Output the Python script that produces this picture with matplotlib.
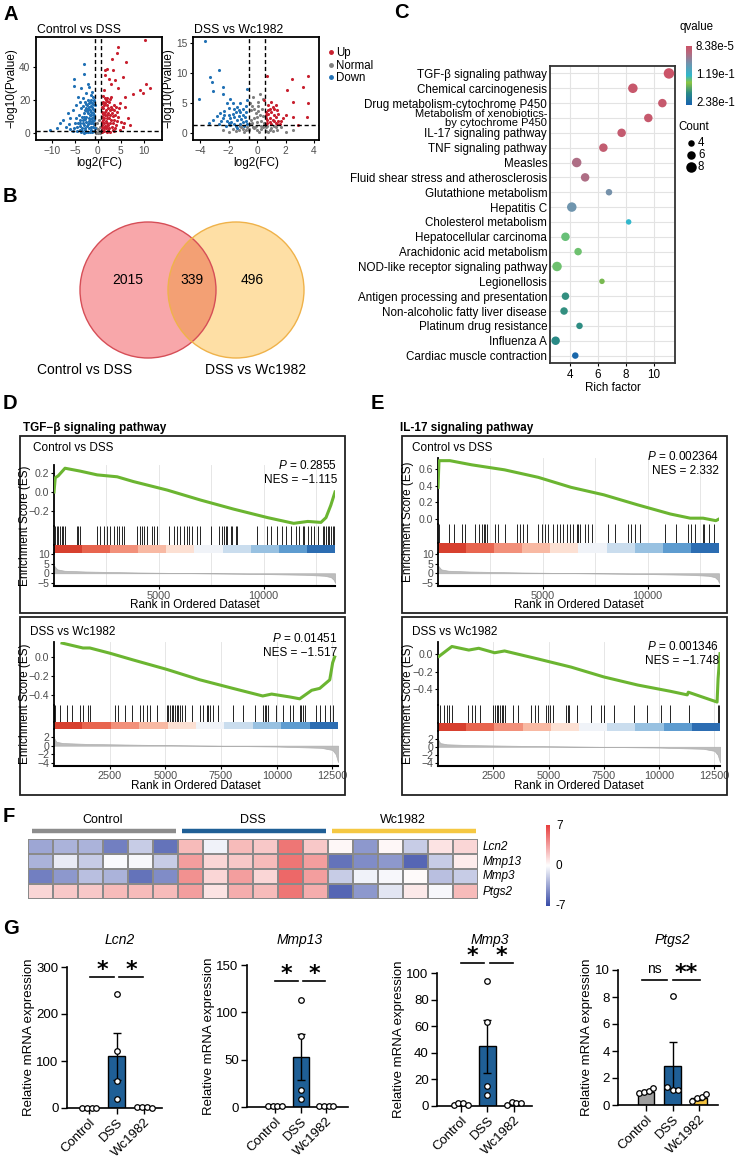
import numpy as np
import matplotlib
matplotlib.use("Agg")
import matplotlib.pyplot as plt
from matplotlib.colors import LinearSegmentedColormap, ListedColormap
from matplotlib.patches import Circle, Rectangle
from matplotlib.lines import Line2D

plt.rcParams['font.family'] = ['Liberation Sans', 'DejaVu Sans']
plt.rcParams['mathtext.fontset'] = 'custom'
plt.rcParams['mathtext.it'] = 'Liberation Sans:italic'
plt.rcParams['mathtext.rm'] = 'Liberation Sans'

# ======================= DATA =======================
# A: volcano plots (log2FC, -log10 Pvalue)
vol1_up = [(2.1,39),(4.2,48.5),(4.3,52),(6.2,43),(10.2,56),(1.5,35),(3.4,38),(3.8,32),(2.8,30),(5.5,34),
           (1.3,26),(4.5,27),(2.8,22),(6,22),(7.7,23.6),(9.1,26),(10.6,30),(11.3,27),(9.8,24),(1.7,20),
           (4.9,18),(6,16),(1.5,38),(3,45),(2.4,33),(0.8,2),(1,5),(1.2,8),(1.5,11),(1.8,14),(2,17),(2.5,19),
           (1.2,15),(1,10),(1.4,3),(2,6),(2.5,9),(3,12),(3.5,8),(3,4),(2.2,2),(4,5),(3.6,14),(2.8,16),
           (1.6,18),(0.9,13),(1.1,19),(2.3,12.5),(4.5,10),(5,7),(3.2,2),(1.7,7.5),(2.7,6.5),(1.3,1.5),
           (0.9,7),(2.1,9.5),(3.8,3),(5.5,4),(1.5,21),(2.4,3.5),(3.3,10.5),(0.8,16),(1.9,1),(4.2,13),
           (6.5,9),(7,5),(3.5,17),(5.5,3.6),(1.1,11.5),(1.9,4.5),(2.6,14),(1.4,6),(0.9,4),
           (1.0,1),(2.6,1),(3.6,1.2),(1.8,3),(2.9,8),(1.4,9.5),(2.0,11),(1.2,12.5),(1.6,13),(3.1,14.5),
           (2.2,15.5),(1.3,17),(1.9,19.5),(0.8,10),(4.2,7.5),(3.8,11),(2.6,11),(1.5,4.5),(2.3,5),(3.4,6),
           (4.8,2),(5.8,6),(0.9,18.5),(2.0,21.5),(2.7,20.5),(1.1,22.5),(3.9,16),(4.6,15)]
vol1_down = [(-5.3,33),(-5.1,28.5),(-3,42),(-3,36),(-2.1,30),(-3.6,27),(-1.9,28),(-1.5,23),(-4.3,22),
             (-6.5,12),(-7.5,8),(-8.2,6),(-6,9),(-5.5,14),(-4.8,17),(-4,19),(-3.2,21),(-2.6,24),(-1.2,25),
             (-3.5,10),(-3,12),(-2.5,15),(-2,18),(-1.5,20),(-1.2,16),(-1,12),(-0.8,8),(-1,4),(-1.5,6),
             (-2,9),(-2.5,7),(-3,5),(-3.5,3),(-4,2),(-4.5,4),(-5,6),(-4,8),(-2,3),(-1.5,2),(-0.9,1.5),
             (-2.8,2),(-2.2,12),(-1.7,14),(-1.2,9),(-3.8,6),(-2.6,10),(-1.9,6),(-1.3,18),(-2.3,17),
             (-1.8,11),(-3.2,8),(-0.9,20),(-1.6,16.5),(-2.9,14),(-4.2,11),(-0.8,14),(-2.4,4.5),(-1.1,6.5),
             (-3.4,1.5),(-9,3),(-10.5,2),(-7,4),(-6,2.5),(-5.5,1.5),(-1.4,11),(-2.1,14.5),(-0.7,17),
             (-1.0,22),(-2.7,19),(-3.6,15),(-0.7,3),(-1.2,1),(-2.2,0.8),(-1.7,8.5),(-0.9,10),
             (-2.5,1),(-3,0.5),(-1.8,0.6),(-3.6,0.8),(-4.5,1.2),(-2.2,5.5),(-2.7,8.5),(-1.4,13),(-1.9,16),
             (-2.4,13.5),(-3.1,10),(-3.3,6.5),(-4.4,6.5),(-4.7,9),(-1.6,4),(-1.1,14.5),(-0.8,11),(-0.75,5.5),
             (-1.3,7.5),(-2.0,7.5),(-2.9,3.5),(-3.9,4.5),(-5.2,3.5),(-6.3,5.5),(-2.6,17.5),(-2.1,20),
             (-1.7,19),(-3.3,16.5),(-1.0,17.5),(-0.8,19.5)]
vol1_normal = [(-0.3,1),(0.3,1.5),(0,0.5),(-0.4,3),(0.4,4),(0.1,2.5),(-0.2,6),(0.2,8),(-0.5,0.3),(0.5,0.4)]

vol2_up = [(0.7,9.5),(2.45,9),(2.1,7.2),(2.5,5.2),(0.5,5.5),(0.8,4.7),(1,5.2),(1.3,4.7),(2,3),(2.5,2.7),
           (3.5,2.7),(2.9,1.3),(0.6,3.5),(0.9,2.5),(1.2,3),(1.5,2),(0.7,1.6),(1,1.4),(1.4,3.8),(0.8,3.1),
           (1.1,2.2),(1.6,1.5),(0.65,2.4),(1.3,1.7),(1.8,2.5),(0.9,4),(1.2,3.9),(3.6,9.5),(3.2,7.7),(3.6,5),
           (0.7,2.1),(1.0,3.4),(1.3,2.6),(0.6,1.4),(0.9,1.8),(1.5,3.1),(1.1,4.3),(0.75,3.8),(1.7,1.9),
           (1.4,1.4),(0.62,2.9),(1.2,2.0)]
vol2_down = [(-3.64,15.3),(-4.1,5.6),(-2.64,10.5),(-3.3,9.3),(-3.2,8.5),(-2.4,7.6),(-2.4,6.5),(-1.9,5.6),
             (-3.1,6.9),(-1.7,5),(-1.2,5),(-0.7,5.5),(-0.7,7.3),(-1.4,4.3),(-2.5,2),(-2,3),(-1.5,3.5),
             (-1,3),(-0.8,2),(-1.2,1.5),(-1.8,1.8),(-2.2,1.2),(-1.6,2.6),(-2.8,2.8),(-1,4),(-2,4.2),
             (-0.9,1.2),(-1.4,0.8),(-3.1,2.1),(-2.7,1.5),(-2.3,3.6),(-1.1,2.3),(-1.9,2.4),(-0.8,3.4),
             (-1.3,3.8),(-2.1,5),(-0.75,4.5),(-1.6,1.4),(-2.4,2.5),(-3.4,1.6),
             (-1.3,2.8),(-1.7,3.2),(-2.1,2),(-2.6,3.3),(-0.85,2.6),(-1.5,1.1),(-1.0,1.8),(-1.9,1.3),
             (-2.3,2.9),(-1.2,3.5),(-0.7,1.5),(-1.6,4),(-2.0,1.6),(-1.4,2.1)]
vol2_normal = [(-0.3,1),(0,0.5),(0.3,1.2),(-0.6,0.4),(0.6,0.3),(-1,0.6),(1,0.8),(-1.5,0.3),(1.4,0.5),
               (-2,0.2),(2,0.2),(-0.2,2.5),(0.2,3),(-0.4,3.8),(0.3,2),(0,1.8),(-0.5,5),(0.1,4.5),(-0.3,6),
               (0.4,5.6),(0.2,6.5),(-0.1,1.2),(0.5,1.6),(-0.7,0.9),(-1.2,1.1),(1.2,1.2),(0.8,0.1),
               (-0.9,0.1),(-0.45,2.2),(0.45,2.8),(-0.1,3.3),(0.15,0.2),(-0.25,0.8),(0.65,0.9),(-1.7,0.7),
               (1.7,0.9),(-0.5,1.5),(0.35,4),(-0.35,4.4),(0.05,5.2),(-2.4,0.4),(2.5,0.5),
               (-0.8,0.5),(0.9,0.5),(-1.3,0.4),(1.1,0.3),(-0.15,0.9),(0.25,0.6),(-0.55,0.6),(0.4,0.9),
               (0,2.6),(-0.2,4),(0.1,3.6),(-1.1,0.9),(1.3,0.9),(-0.35,1.7),(0.7,1.2)]

# B: Venn
venn_counts = [2015, 339, 496]
venn_sets = ["Control vs DSS", "DSS vs Wc1982"]

# C: KEGG enrichment
kegg_terms = ["TGF-\u03b2 signaling pathway", "Chemical carcinogenesis", "Drug metabolism-cytochrome P450",
              "Metabolism of xenobiotics-\nby cytochrome P450", "IL-17 signaling pathway", "TNF signaling pathway",
              "Measles", "Fluid shear stress and atherosclerosis", "Glutathione metabolism", "Hepatitis C",
              "Cholesterol metabolism", "Hepatocellular carcinoma", "Arachidonic acid metabolism",
              "NOD-like receptor signaling pathway", "Legionellosis", "Antigen processing and presentation",
              "Non-alcoholic fatty liver disease", "Platinum drug resistance", "Influenza A",
              "Cardiac muscle contraction"]
kegg_rich = [11.07, 8.5, 10.6, 9.6, 7.7, 6.4, 4.5, 5.1, 6.8, 4.15, 8.2, 3.7, 4.6, 3.1, 6.3, 3.7, 3.6, 4.7, 3.0, 4.4]
kegg_count = [8, 7, 6, 6, 6, 6, 7, 6, 4, 7, 3, 6, 5, 7, 3, 5, 5, 4, 6, 4]
kegg_q = [8.4e-5, 0.0048, 0.0072, 0.0072, 0.0096, 0.012, 0.033, 0.033, 0.067, 0.071, 0.119, 0.136,
          0.138, 0.138, 0.157, 0.186, 0.186, 0.188, 0.19, 0.233]
q_min, q_max = 8.38e-5, 2.38e-1

# D/E: GSEA running enrichment scores
ctrl_dss_n = 13400
dss_wc_n = 12750
tgf_ctrl_rank = [1, 60, 200, 525, 1240, 2060, 3010, 3780, 5400, 6990, 8560, 10190, 11430, 12100, 12730, 12970, 13200, 13400]
tgf_ctrl_es = [0.0, 0.15, 0.17, 0.25, 0.22, 0.18, 0.16, 0.11, 0.02, -0.085, -0.18, -0.27, -0.33, -0.31, -0.32, -0.27, -0.14, 0.0]
tgf_ctrl_hits = [48,128,207,287,367,447,526,1085,1164,1244,2042,2201,2361,2520,2680,2839,2999,3078,3238,3318,
                 3956,4115,4195,4275,4434,4673,4753,4913,5471,5710,5870,6029,6189,6348,6428,6588,6827,6986,
                 7465,7863,8023,8103,8182,8262,8422,8501,8661,8741,9698,10176,10336,10655,10894,11053,11293,
                 11532,11692,11851,11931,12091,12250,12410,12569,12808,12888,12968,13047,13127,13207,13287,13366]
tgf_wc_rank = [360, 1300, 1610, 2510, 3540, 5060, 6550, 8030, 9370, 9770, 10580, 11030, 11570, 11930, 12380, 12510, 12600]
tgf_wc_es = [0.147, 0.095, 0.095, 0.04, -0.03, -0.13, -0.24, -0.33, -0.41, -0.39, -0.42, -0.44, -0.35, -0.33, -0.24, -0.06, 0.0]
tgf_wc_hits = [5,60,269,568,792,1166,1316,1540,1615,2736,2886,3185,3484,3857,4007,4156,4306,4605,5053,5128,5203,
               5277,5352,5427,5502,5577,5651,5726,5875,6174,6548,6698,6847,6922,6997,7146,7370,8043,8492,9015,
               9389,9464,9538,9613,9987,10286,10585,10734,11033,11108,11183,11258,11781,11930,12155,12379,12528]
il17_ctrl_rank = [1, 47, 568, 1610, 3172, 4782, 6345, 7907, 9517, 11080, 12027, 12642, 13250, 13400]
il17_ctrl_es = [0.38, 0.70, 0.70, 0.65, 0.59, 0.50, 0.38, 0.29, 0.17, 0.06, 0.01, 0.01, -0.02, 0.0]
il17_ctrl_hits = [32,507,745,1141,1299,1775,1933,2092,2171,2250,2329,2725,2884,3200,3755,3913,4072,4230,4785,4943,
                  5102,5260,5498,5656,5815,5973,6132,6290,6448,6607,6686,6765,7003,7162,7320,8112,8429,9063,9221,
                  9380,9617,10806,11361,11915,12074,12232,12628,12708,12945,13183,13380]
il17_wc_rank = [45, 629, 1392, 1841, 2560, 3009, 4535, 6017, 7499, 9026, 10507, 11271, 11316, 12618, 12663, 12750]
il17_wc_es = [-0.03, 0.08, 0.04, 0.06, 0.01, 0.03, -0.06, -0.15, -0.26, -0.35, -0.42, -0.46, -0.43, -0.54, -0.28, 0.0]
il17_wc_hits = [105,254,404,509,629,1377,1527,1676,1901,2500,2575,2650,2724,2799,2874,2949,3024,3398,3623,4221,
                4371,4521,4895,4970,5045,5194,5793,5868,5943,6287,6916,7365,7515,7964,8862,9461,10060,10509,
                11332,12680,12725]
ctrl_metric_rank = [1, 150, 500, 1500, 4000, 7000, 10000, 12000, 12900, 13200, 13350, 13400]
ctrl_metric = [4.0, 2.0, 1.3, 0.9, 0.4, 0.0, -0.4, -0.8, -1.3, -2.0, -3.5, -5.0]
wc_metric_rank = [1, 100, 400, 1500, 4000, 7000, 10000, 12000, 12500, 12650, 12750]
wc_metric = [1.8, 0.9, 0.6, 0.4, 0.2, 0.0, -0.2, -0.5, -1.0, -2.0, -3.8]

# F: heatmap (z-scores)
heat_genes = ["Lcn2", "Mmp13", "Mmp3", "Ptgs2"]
heat_groups = ["Control", "DSS", "Wc1982"]
heat_lcn2 = [-3.5,-3,-3,-5,-2,-5.5, 2.5,-0.5,2.5,2,5,2, 0.3,-4,0.3,-2,1,1.5]
heat_mmp13 = [-3,-0.8,-2,-0.2,-0.3,-2, 3.5,1.5,2,2.5,5,3.5, -5.5,-4.5,-4,-6,-2,0.7]
heat_mmp3 = [-5,-4,-2.5,-3,-5.5,-4.5, 4,1.5,3.5,1.5,5.5,3.5, -2,-0.5,-0.3,0.2,-2.5,-2]
heat_ptgs2 = [1.5,2,2,2.5,2.5,2.5, 3.5,1,3,2.5,5,3, -6,-4,-1,0.8,-0.3,2.5]

# G: qPCR
groups = ["Control", "DSS", "Wc1982"]
lcn2_mean = [1.0, 110, 1.5]; lcn2_sem = [0.3, 50, 0.5]
lcn2_pts = [[1, 1, 1, 1], [243, 122, 58, 20], [2, 3, 2, 1]]
mmp13_mean = [1.0, 53, 1.0]; mmp13_sem = [0.2, 24, 0.3]
mmp13_pts = [[1, 1, 1, 1], [113, 75, 18, 8], [1, 1, 1, 1]]
mmp3_mean = [1.0, 45, 1.5]; mmp3_sem = [0.3, 20, 0.6]
mmp3_pts = [[1, 2, 2, 1], [94, 63, 15, 8], [0.5, 3, 2, 2]]
ptgs2_mean = [1.0, 2.9, 0.5]; ptgs2_sem = [0.08, 1.75, 0.1]
ptgs2_pts = [[0.9, 1.0, 1.05, 1.25], [8.1, 1.3, 1.1, 1.1], [0.3, 0.5, 0.6, 0.8]]

# ======================= FIGURE =======================
W, H = 738, 1161
fig = plt.figure(figsize=(W / 100, H / 100), dpi=100)


def axp(l, t, r, b):
    return fig.add_axes([l / W, 1 - b / H, (r - l) / W, (b - t) / H])


def txt(x, y, s, **kw):
    kw.setdefault('va', 'center')
    return fig.text(x / W, 1 - y / H, s, **kw)


for lab, x, y in [("A", 3, 14), ("B", 3, 196), ("C", 394, 13), ("D", 3, 403), ("E", 371, 403),
                  ("F", 3, 817), ("G", 3, 928)]:
    txt(x, y, lab, fontsize=14.5, fontweight='bold', ha='left')

GRAY_T = '#4D4D4D'

# ---------- A: volcano ----------
def volcano(box, up, normal, down, xlim, ylim, xticks, yticks, title, tx):
    ax = axp(*box)
    for pts, c in [(normal, '#7F7F7F'), (down, '#2171B5'), (up, '#C8202F')]:
        xs, ys = zip(*pts)
        ax.scatter(xs, ys, s=5, c=c, lw=0, zorder=2)
    for v in (-0.58, 0.58):
        ax.axvline(v, ls=(0, (3, 2)), c='black', lw=1, zorder=3)
    ax.axhline(1.3, ls=(0, (3, 2)), c='black', lw=1, zorder=3)
    ax.set_xlim(*xlim); ax.set_ylim(*ylim)
    ax.set_xticks(xticks); ax.set_yticks(yticks)
    ax.tick_params(length=2.5, width=0.8, labelsize=7.3, labelcolor=GRAY_T, pad=1.5)
    for s in ax.spines.values():
        s.set_linewidth(1.3)
    ax.set_xlabel("log2(FC)", fontsize=8.5, labelpad=1)
    ax.set_ylabel("\u2212log10(Pvalue)", fontsize=8.5, labelpad=1)
    txt(tx, 30, title, fontsize=8.8, ha='left')
    return ax

volcano((36, 37, 162, 140), vol1_up, vol1_normal, vol1_down, (-13.5, 14), (-4, 58),
        [-10, -5, 0, 5, 10], [0, 20, 40], "Control vs DSS", 37)
axv2 = volcano((193, 37, 319, 140), vol2_up, vol2_normal, vol2_down, (-4.5, 4.35), (-1.2, 16),
               [-4, -2, 0, 2, 4], [0, 5, 10, 15], "DSS vs Wc1982", 194)
handles = [Line2D([], [], marker='o', ls='', color=c, markersize=2.5, label=l)
           for c, l in [('#C8202F', 'Up'), ('#7F7F7F', 'Normal'), ('#2171B5', 'Down')]]
axv2.legend(handles=handles, loc='upper left', bbox_to_anchor=(1.0, 0.97), frameon=False,
            fontsize=8.3, handletextpad=0.1, labelspacing=0.05, borderaxespad=0.2, handlelength=0.8)

# ---------- B: Venn ----------
axb = axp(40, 200, 340, 385)
axb.set_xlim(40, 340); axb.set_ylim(385, 200); axb.axis('off')
cL = Circle((148, 290), 68, fc='#F8A7AA', ec='none')
cR = Circle((236, 290), 68, fc='#FEDFA5', ec='none')
axb.add_patch(cL); axb.add_patch(cR)
cO = Circle((148, 290), 68, fc='#F3A074', ec='none')
axb.add_patch(cO)
cO.set_clip_path(Circle((236, 290), 68, transform=axb.transData))
axb.add_patch(Circle((148, 290), 68, fc='none', ec='#D64E57', lw=1))
axb.add_patch(Circle((236, 290), 68, fc='none', ec='#EFB24A', lw=1))
for xx, n in zip([128, 192, 252], venn_counts):
    axb.text(xx, 280, str(n), ha='center', va='center', fontsize=10)
txt(85, 370, venn_sets[0], fontsize=10, ha='center')
txt(256, 370, venn_sets[1], fontsize=10, ha='center')

# ---------- C: KEGG dot plot ----------
q_cmap = LinearSegmentedColormap.from_list('q', [(0, '#CB5468'), (0.12, '#B56A80'), (0.3, '#6E95AF'),
                                                 (0.5, '#30B7CC'), (0.62, '#8DC641'), (0.8, '#2A8A86'),
                                                 (1, '#1863AE')])
axc = axp(550, 66, 675, 363)
ypos = np.arange(len(kegg_terms))
qn = (np.array(kegg_q) - q_min) / (q_max - q_min)
def csize(c):
    d = 6.5 + (np.asarray(c) - 4) * 1.0
    return (d * 0.72) ** 2
axc.scatter(kegg_rich, ypos, s=csize(kegg_count), c=q_cmap(qn), lw=0, zorder=3)
axc.set_xlim(2.6, 11.5); axc.set_ylim(len(kegg_terms) - 0.5, -0.5)
axc.set_xticks([4, 6, 8, 10]); axc.set_yticks(ypos)
lbls = axc.set_yticklabels(kegg_terms, fontsize=8.4, linespacing=0.84)
lbls[3].set_fontsize(8.0)
axc.grid(True, color='#E3E3E3', lw=0.8, zorder=0)
axc.set_axisbelow(True)
axc.tick_params(axis='y', length=0, pad=2)
axc.tick_params(axis='x', length=2.5, labelsize=8.4, pad=1.5)
for s in axc.spines.values():
    s.set_linewidth(1.3); s.set_color('#333333')
axc.set_xlabel("Rich factor", fontsize=8.4, labelpad=1)
# colorbar
axq = axp(686, 46, 692, 105)
axq.imshow(np.linspace(0, 1, 100)[:, None], cmap=q_cmap, aspect='auto')
axq.axis('off')
txt(680, 27, "qvalue", fontsize=8.3, ha='left')
for yy, s in [(47, "8.38e-5"), (75, "1.19e-1"), (103, "2.38e-1")]:
    txt(696, yy, s, fontsize=8.3, ha='left')
txt(678, 127, "Count", fontsize=8.3, ha='left')
axk = axp(682, 135, 700, 174)
axk.set_xlim(0, 1); axk.set_ylim(174, 135); axk.axis('off')
for yy, cnt in [(143, 4), (155, 6), (167, 8)]:
    axk.scatter([0.5], [yy], s=csize(cnt), c='black', lw=0)
    txt(698, yy, str(cnt), fontsize=8.3, ha='left')

# ---------- D/E: GSEA ----------
band_cols = ['#D7402F', '#E8654F', '#F2907A', '#F8B9A3', '#FCE0D3', '#F0F3F8', '#CADDEE', '#98C1E1',
             '#5E9CD0', '#2C6DB2']

def gsea(box, x0, x1, ys, xmax, ranks, es, es_ylim, es_ticks, hits, mr, mv, m_ylim, m_ticks, xticks,
         cmp, p, nes, cmp_xy, p_xy, ylab_x, xlab_y):
    l, t, r, b = box
    fig.add_artist(Rectangle((l / W, 1 - b / H), (r - l) / W, (b - t) / H, transform=fig.transFigure,
                             fill=False, lw=1.3, ec='#222222'))
    et, eb, hb, bb, mb = ys
    a1 = axp(x0, et, x1, eb); a2 = axp(x0, eb, x1, hb); a3 = axp(x0, hb, x1, bb); a4 = axp(x0, bb, x1, mb)
    for a in (a1, a2, a3, a4):
        a.set_xlim(0, xmax)
        for s in ('top', 'right', 'bottom'):
            a.spines[s].set_visible(False)
        a.spines['left'].set_linewidth(1.3)
        a.tick_params(axis='x', bottom=False, labelbottom=False)
        a.tick_params(axis='y', length=2.5, width=0.8, labelsize=7.6, labelcolor=GRAY_T, pad=0.8)
        a.patch.set_alpha(0)
    for a in (a1, a2, a4):
        for g in np.arange(2500, xmax, 2500):
            a.axvline(g, color='#E6E6E6', lw=0.7, zorder=0)
    a1.plot(ranks, es, color='#6BB531', lw=2.2, zorder=3)
    a1.set_ylim(*es_ylim); a1.set_yticks(es_ticks)
    a1.set_yticklabels([f"{v:.1f}".replace('-', '\u2212') for v in es_ticks])
    a2.vlines(hits, 0, 1, color='black', lw=0.6)
    a2.set_ylim(0, 1); a2.set_yticks([])
    a3.imshow(np.arange(len(band_cols))[None, :], cmap=ListedColormap(band_cols), aspect='auto',
              extent=(0, xmax, 0, 1))
    a3.set_xlim(0, xmax); a3.set_ylim(0, 1); a3.set_yticks([])
    a4.fill_between(mr, mv, 0, color='#BDBDBD', lw=0.5, ec='#AFAFAF')
    a4.set_ylim(*m_ylim); a4.set_yticks(m_ticks)
    a4.spines['bottom'].set_visible(True); a4.spines['bottom'].set_linewidth(1.5)
    a4.tick_params(axis='x', bottom=True, labelbottom=True, length=2.5, labelsize=7.8, labelcolor=GRAY_T, pad=1)
    a4.set_xticks(xticks)
    txt((x0 + x1) / 2, xlab_y, "Rank in Ordered Dataset", fontsize=8.5, ha='center')
    txt(ylab_x, (et + mb) / 2, "Enrichment Score (ES)", fontsize=8.5, ha='center', rotation=90)
    txt(cmp_xy[0], cmp_xy[1], cmp, fontsize=8.5, ha='left')
    txt(p_xy[0], p_xy[1], r"$\it{P}$ = " + p, fontsize=8.5, ha='right')
    txt(p_xy[0], p_xy[1] + 14, "NES = " + nes, fontsize=8.5, ha='right')

txt(23, 428, "TGF\u2212\u03b2 signaling pathway", fontsize=8.5, fontweight='bold', ha='left')
txt(400, 428, "IL-17 signaling pathway", fontsize=8.5, fontweight='bold', ha='left')

gsea((20, 436, 345, 613), 54, 335, (465, 526, 545, 553, 586), ctrl_dss_n, tgf_ctrl_rank, tgf_ctrl_es,
     (-0.358, 0.284), [-0.2, 0.0, 0.2], tgf_ctrl_hits, ctrl_metric_rank, ctrl_metric, (-6.6, 10.5),
     [-5, 0, 5, 10], [5000, 10000], "Control vs DSS", "0.2855", "\u22121.115", (33, 448), (337, 466), 25, 605)
gsea((20, 617, 345, 795), 54, 338, (642, 705, 722, 729, 766), dss_wc_n, tgf_wc_rank, tgf_wc_es,
     (-0.505, 0.158), [-0.4, -0.2, 0.0], tgf_wc_hits, wc_metric_rank, wc_metric, (-4.7, 3.85),
     [-4, -2, 0, 2], [2500, 5000, 7500, 10000, 12500], "DSS vs Wc1982", "0.01451", "\u22121.517",
     (30, 632), (337, 639), 25, 786)
gsea((402, 436, 727, 613), 438, 719, (458, 524, 543, 553, 586), ctrl_dss_n, il17_ctrl_rank, il17_ctrl_es,
     (-0.06, 0.732), [0.0, 0.2, 0.4, 0.6], il17_ctrl_hits, ctrl_metric_rank, ctrl_metric, (-6.6, 10.5),
     [-5, 0, 5, 10], [5000, 10000], "Control vs DSS", "0.002364", "2.332", (412, 448), (719, 457), 408, 605)
gsea((402, 617, 727, 795), 438, 720, (642, 705, 723, 731, 766), dss_wc_n, il17_wc_rank, il17_wc_es,
     (-0.573, 0.13), [-0.4, -0.2, 0.0], il17_wc_hits, wc_metric_rank, wc_metric, (-4.7, 3.85),
     [-4, -2, 0, 2], [2500, 5000, 7500, 10000, 12500], "DSS vs Wc1982", "0.001346", "\u22121.748",
     (412, 632), (719, 647), 408, 786)

# ---------- F: heatmap ----------
heat_cmap = LinearSegmentedColormap.from_list('h', ['#3A4DA8', '#FFFFFF', '#E8403F'])
axh = axp(28, 839, 478, 899)
mat = np.array([heat_lcn2, heat_mmp13, heat_mmp3, heat_ptgs2])
axh.pcolormesh(mat, cmap=heat_cmap, vmin=-7, vmax=7, edgecolors='#8A8A8A', linewidth=0.3)
axh.set_xlim(0, 18); axh.set_ylim(4, 0); axh.axis('off')
group_cols = ['#8C8C8C', '#1F5F96', '#F5C842']
for g, (name, c) in enumerate(zip(heat_groups, group_cols)):
    axh.plot([g * 6 + 0.16, g * 6 + 5.92], [-0.55, -0.55], color=c, lw=3.2, clip_on=False,
             solid_capstyle='butt')
    axh.text(g * 6 + 3, -1.25, name, ha='center', va='center', fontsize=9)
for i, gname in enumerate(heat_genes):
    axh.text(18.2, i + 0.5, gname, ha='left', va='center', fontsize=8.5, style='italic')
axhc = axp(546, 825, 550, 906)
axhc.imshow(np.linspace(7, -7, 100)[:, None], cmap=heat_cmap, vmin=-7, vmax=7, aspect='auto')
axhc.axis('off')
for yy, s in [(826, "7"), (866, "0"), (906, "-7")]:
    txt(556, yy, s, fontsize=8.5, ha='left')

# ---------- G: bar plots ----------
bar_cols = ['#9E9E9E', '#1F5F96', '#F3C23F']

def bar_panel(box, xlim, means, sems, pts, ylim, yticks, title, title_x, sigs, dss_jit=False):
    ax = axp(*box)
    x = np.arange(3)
    ax.bar(x, means, width=0.62, color=bar_cols, edgecolor='black', lw=1, zorder=2)
    ax.errorbar(x, means, yerr=sems, fmt='none', ecolor='black', elinewidth=1, capsize=3,
                capthick=1, zorder=3)
    for i, vals in enumerate(pts):
        if i == 1:
            off = [0, -0.2, 0, 0.2] if dss_jit else [0, 0, 0, 0]
        else:
            off = [-0.27, -0.09, 0.09, 0.27]
        ax.scatter(i + np.array(off), vals, s=16, facecolor='white', edgecolor='black', lw=0.9,
                   zorder=4, clip_on=False)
    ax.set_xlim(*xlim); ax.set_ylim(*ylim)
    ax.set_yticks(yticks); ax.set_xticks(x)
    ax.set_xticklabels(groups, rotation=45, ha='right', rotation_mode='anchor', fontsize=9.5)
    ax.tick_params(length=4, width=1, labelsize=9.5, pad=2)
    for s in ('top', 'right'):
        ax.spines[s].set_visible(False)
    for s in ('left', 'bottom'):
        ax.spines[s].set_linewidth(1.2)
    ax.set_ylabel("Relative mRNA expression", fontsize=9.5, labelpad=1)
    txt(title_x, 940, title, fontsize=10, style='italic', ha='center')
    span = ylim[1] - ylim[0]
    for x1, x2, yv, lab in sigs:
        ax.plot([x1, x2], [yv, yv], color='black', lw=1.2, clip_on=False)
        if lab == 'ns':
            ax.text((x1 + x2) / 2, yv + span * 0.03, lab, ha='center', va='bottom', fontsize=10)
        else:
            ax.text((x1 + x2) / 2, yv - span * 0.02, lab, ha='center', va='bottom', fontsize=16,
                    fontweight='bold', family='DejaVu Sans')
    return ax

bar_panel((67, 967, 162, 1108), (-0.8, 2.65), lcn2_mean, lcn2_sem, lcn2_pts, (0, 300), [0, 100, 200, 300],
          "Lcn2", 120, [(0.05, 0.9, 279, '*'), (1.1, 1.95, 279, '*')])
bar_panel((247, 965, 348, 1107), (-1.1, 2.85), mmp13_mean, mmp13_sem, mmp13_pts, (0, 150), [0, 50, 100, 150],
          "Mmp13", 300, [(0.0, 0.88, 133, '*'), (1.1, 1.95, 133, '*')])
bar_panel((437, 973, 532, 1106), (-0.9, 2.68), mmp3_mean, mmp3_sem, mmp3_pts, (0, 100), [0, 20, 40, 60, 80, 100],
          "Mmp3", 490, [(0.0, 0.88, 107.5, '*'), (1.1, 1.95, 107.5, '*')])
bar_panel((618, 970, 718, 1105), (-1.06, 2.71), ptgs2_mean, ptgs2_sem, ptgs2_pts, (0, 10), [0, 2, 4, 6, 8, 10],
          "Ptgs2", 672, [(-0.15, 0.8, 9.26, 'ns'), (1.0, 2.05, 9.26, '**')], dss_jit=True)

fig.savefig("out.png", dpi=100)
